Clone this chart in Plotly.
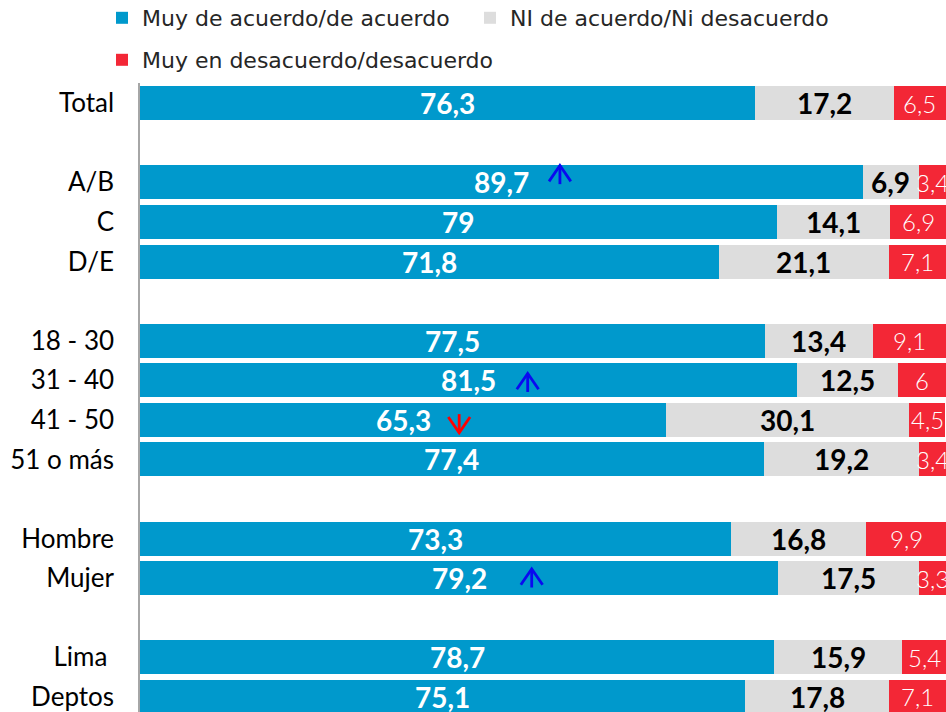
import plotly.graph_objects as go

# ---------------- data ----------------
groups = [
    ["Total"],
    ["A/B", "C", "D/E"],
    ["18 - 30", "31 - 40", "41 - 50", "51 o más"],
    ["Hombre", "Mujer"],
    ["Lima\u00a0", "Deptos"],
]
acuerdo = [76.3, 89.7, 79, 71.8, 77.5, 81.5, 65.3, 77.4, 73.3, 79.2, 78.7, 75.1]
neutral = [17.2, 6.9, 14.1, 21.1, 13.4, 12.5, 30.1, 19.2, 16.8, 17.5, 15.9, 17.8]
desacuerdo = [6.5, 3.4, 6.9, 7.1, 9.1, 6, 4.5, 3.4, 9.9, 3.3, 5.4, 7.1]
series_names = ["Muy de acuerdo/de acuerdo", "NI de acuerdo/Ni desacuerdo",
                "Muy en desacuerdo/desacuerdo"]

# significance markers
sig_cats = ["A/B", "31 - 40", "41 - 50", "Mujer"]
sig_dir = ["up", "up", "down", "up"]

# ---------------- layout helpers ----------------
categories = []
slots = []
pos = 0
for g in groups:
    for c in g:
        categories.append(c)
        slots.append(pos)
        pos += 1
    pos += 1  # empty slot between groups

colors = ["#0099CC", "#DDDDDD", "#F32736"]
series = [acuerdo, neutral, desacuerdo]

fig = go.Figure()
legend_ids = ["legend", "legend2", "legend3"]
for name, vals, col, lg in zip(series_names, series, colors, legend_ids):
    fig.add_trace(go.Bar(
        y=slots, x=vals, name=name, orientation="h",
        marker=dict(color=col, line=dict(width=0)),
        width=0.86, legend=lg, hoverinfo="skip",
    ))


def fmt(v):
    return f"{v:g}".replace(".", ",")


annotations = []
for i, yv in enumerate(slots):
    start = 0
    for k, vals in enumerate(series):
        v = vals[i]
        if k == 0:
            font = dict(family="Lato", size=28, color="white", weight="bold")
        elif k == 1:
            font = dict(family="Lato", size=28, color="black", weight="bold")
        else:
            font = dict(family="Lato", size=24, color="white", weight=300)
        annotations.append(dict(
            x=start + v / 2, y=yv, xref="x", yref="y", text=fmt(v),
            showarrow=False, font=font, xanchor="center", yanchor="middle",
        ))
        start += v

# arrows (placement inside the bar, in data units)
arrow_x = {"A/B": 52.1, "31 - 40": 48.1, "41 - 50": 39.6, "Mujer": 48.6}
arrow_dy = {"A/B": -0.19, "31 - 40": 0.06, "41 - 50": 0.09, "Mujer": 0.0}
hw = 1.35  # half width in x units
hh = 0.235  # half height in y units
for cat, d in zip(sig_cats, sig_dir):
    yc = slots[categories.index(cat)] + arrow_dy[cat]
    xc = arrow_x[cat]
    if d == "up":
        tip, base, col = yc - hh, yc + hh, "#0A0AF0"
    else:
        tip, base, col = yc + hh, yc - hh, "#FF0000"
    arm = tip + (base - tip) * 0.85
    xs = [xc, xc, None, xc - hw, xc, xc + hw]
    ys = [base, tip, None, arm, tip, arm]
    fig.add_trace(go.Scatter(x=xs, y=ys, mode="lines",
                             line=dict(color=col, width=2.8),
                             showlegend=False, hoverinfo="skip"))

leg_font = dict(family="DejaVu Sans", size=22, color="#262626")
fig.update_layout(
    width=946, height=712,
    barmode="stack",
    plot_bgcolor="white", paper_bgcolor="white",
    margin=dict(l=140, r=0, t=83, b=0, autoexpand=False),
    annotations=annotations,
    legend=dict(x=102 / 946, y=1 - 18 / 712, xref="container", yref="container",
                xanchor="left", yanchor="middle", font=leg_font,
                bgcolor="rgba(0,0,0,0)"),
    legend2=dict(x=470 / 946, y=1 - 18 / 712, xref="container", yref="container",
                 xanchor="left", yanchor="middle", font=leg_font,
                 bgcolor="rgba(0,0,0,0)"),
    legend3=dict(x=102 / 946, y=1 - 60 / 712, xref="container", yref="container",
                 xanchor="left", yanchor="middle", font=leg_font,
                 bgcolor="rgba(0,0,0,0)"),
    xaxis=dict(range=[0, 100], visible=False, fixedrange=True),
    yaxis=dict(
        range=[15.38, -0.51], tickvals=slots, ticktext=categories,
        showline=True, linecolor="#A6A6A6", linewidth=1.5,
        showgrid=False, zeroline=False, ticks="",
        ticklabelstandoff=19, ticklabeloverflow="allow",
        tickfont=dict(family="Lato", size=26, color="black"),
        fixedrange=True,
    ),
)

fig.write_html(
    "out.html",
    config={"displayModeBar": False},
    post_script="document.body.style.margin='0';document.body.style.overflow='hidden';",
)
